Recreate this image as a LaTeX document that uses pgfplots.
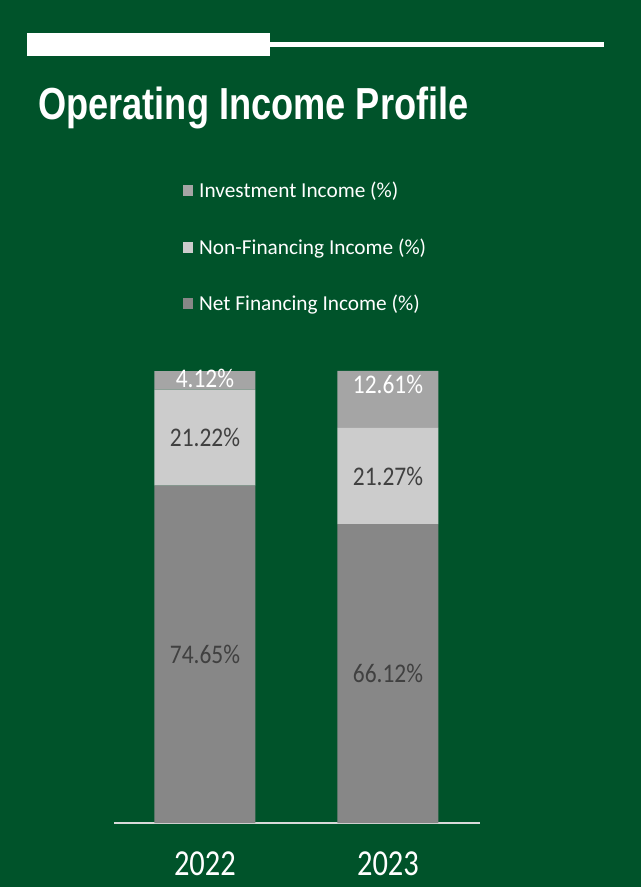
\documentclass[border=0pt]{standalone}
\usepackage{pgfplots}
\usepackage{pgfplotstable}
\pgfplotsset{compat=1.18}
\usepackage{graphicx}
\usepackage{fontspec}
\setmainfont{Carlito}
\newfontfamily\titlefont{Liberation Sans}
\definecolor{bggreen}{HTML}{00532A}
\definecolor{netgray}{HTML}{878787}
\definecolor{nongray}{HTML}{CCCCCC}
\definecolor{invgray}{HTML}{A5A5A5}
\definecolor{labdark}{HTML}{404040}
\definecolor{axisgray}{HTML}{D9D9D9}
\pgfplotstableread{
x y dy
0 74.65 0
1 66.12 0
}\netfin
\pgfplotstableread{
x y dy
0 21.22 0
1 21.27 0
}\nonfin
\pgfplotstableread{
x y dy
0 4.12 2
1 12.61 15
}\invinc
\begin{document}
\begin{tikzpicture}
\fill[bggreen] (0bp,0bp) rectangle (641bp,887bp);
\fill[white] (27bp,831bp) rectangle (270bp,854bp);
\fill[white] (270bp,840bp) rectangle (604bp,845bp);
\node[anchor=base west, inner sep=0pt, text=white] at (38bp,767bp) {\scalebox{1}[1.24]{\titlefont\bfseries\fontsize{36.2bp}{40bp}\selectfont Operating Income Profile}};
\begin{axis}[
  at={(114bp,64bp)}, anchor=south west,
  scale only axis, width=366bp, height=452bp,
  xmin=-0.497, xmax=1.503, ymin=0, ymax=100,
  ybar stacked, bar width=101bp,
  axis y line=none, axis x line*=bottom,
  x axis line style={-, draw=axisgray, line width=1.5bp},
  xtick={0,1}, xticklabels={\scalebox{1}[1.2]{2022},\scalebox{1}[1.2]{2023}},
  major tick length=0pt,
  xticklabel style={text=white, inner sep=0pt, anchor=north, yshift=-29bp, font=\fontsize{30.5bp}{36bp}\selectfont},
  clip=false,
  point meta=explicit,
  /pgf/number format/assume math mode=true,
  nodes near coords={\scalebox{1}[1.15]{\pgfmathprintnumber[fixed,fixed zerofill,precision=2]{\pgfplotspointmeta}\%}},
  visualization depends on={\thisrow{dy} \as \dy},
  every node near coord/.append style={anchor=center, yshift=\dy bp, font=\fontsize{23.4bp}{28bp}\selectfont},
  legend style={at={(axis description cs:0.1885,1.418)}, anchor=north west, draw=none, fill=none, text=white,
    font=\fontsize{21.3bp}{25bp}\selectfont, inner sep=0pt, row sep=39.5bp, column sep=6bp,
    nodes={inner sep=0pt}, cells={anchor=west}},
  legend cell align=left,
  reverse legend,
  legend image code/.code={\fill[#1] (0bp,-5.5bp) rectangle (10bp,5.5bp);},
]
\addplot[fill=netgray, draw=none, every node near coord/.append style={text=labdark}] table[x=x,y=y,meta=y] {\netfin};
\addplot[fill=nongray, draw=none, every node near coord/.append style={text=labdark}] table[x=x,y=y,meta=y] {\nonfin};
\addplot[fill=invgray, draw=none, every node near coord/.append style={text=white}] table[x=x,y=y,meta=y] {\invinc};
\legend{Net Financing Income (\%), Non-Financing Income (\%), Investment Income (\%)}
\end{axis}
\end{tikzpicture}
\end{document}
